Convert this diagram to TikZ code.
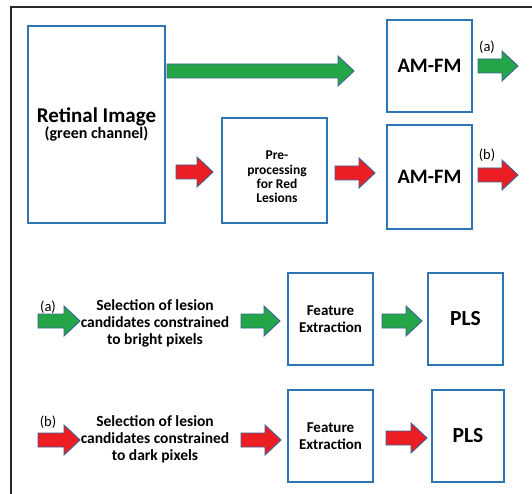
\documentclass[tikz,border=0pt]{standalone}
\usepackage{fontspec}
\setmainfont{Carlito}
\usetikzlibrary{calc}

\definecolor{boxblue}{RGB}{46,117,182}
\definecolor{arrowedge}{RGB}{58,98,150}
\definecolor{arrowgreen}{RGB}{36,166,72}
\definecolor{arrowred}{RGB}{236,30,36}
\definecolor{framegray}{RGB}{40,40,40}

% block arrow between two named coordinates (same height)
\newcommand\blockarrow[3]{%
  \path let \p1=(#2), \p2=(#3) in
    [draw=arrowedge, line width=0.9pt, line join=miter, fill=#1]
    (\x1,{\y1+7pt}) -- ({\x2-16pt},{\y1+7pt}) -- ({\x2-16pt},{\y1+15pt})
    -- (\x2,\y1) -- ({\x2-16pt},{\y1-15pt}) -- ({\x2-16pt},{\y1-7pt})
    -- (\x1,{\y1-7pt}) -- cycle;}

\begin{document}
\begin{tikzpicture}[x=1pt,y=-1pt,
  box/.style={draw=boxblue, line width=1.5pt, fill=white, inner sep=0pt,
    align=center},
  plain/.style={inner sep=0pt, align=center},
  tag/.style={inner sep=0pt, font=\fontsize{14.5}{15}\selectfont}]
\useasboundingbox (0,0) rectangle (532,494);
\fill[white] (0,0) rectangle (532,494);

% outer frame
\draw[framegray, line width=1.3pt] (11,500) -- (11,7) -- (540,7);

% upper stage
\node[box, minimum width=137pt, minimum height=197pt,
  font=\bfseries\fontsize{16}{16}\selectfont] (retina) at (96.5,124.5)
  {{\fontsize{21}{21}\selectfont Retinal Image}\\(green channel)};
\node[box, minimum width=85pt, minimum height=92pt,
  font=\bfseries\fontsize{20.5}{22}\selectfont] (amfmA) at (429.5,66) {AM-FM};
\node[box, minimum width=85pt, minimum height=104pt,
  font=\bfseries\fontsize{20.5}{22}\selectfont] (amfmB) at (429.5,177) {AM-FM};
\node[box, minimum width=105pt, minimum height=105pt] (pre) at (274.5,170.5) {};
\node[plain, font=\bfseries\fontsize{13.5}{14.4}\selectfont] (pretext) at (277,177)
  {Pre-\\processing\\for Red\\Lesions};

\coordinate (g1s) at (167,71);  \coordinate (g1e) at (354,71);
\coordinate (r1s) at (176,172); \coordinate (r1e) at (213,172);
\coordinate (r2s) at (335,173); \coordinate (r2e) at (375,173);
\coordinate (gAs) at (478,66);  \coordinate (gAe) at (518,66);
\coordinate (rBs) at (478,175); \coordinate (rBe) at (518,175);
\blockarrow{arrowgreen}{g1s}{g1e}
\blockarrow{arrowred}{r1s}{r1e}
\blockarrow{arrowred}{r2s}{r2e}
\blockarrow{arrowgreen}{gAs}{gAe}
\blockarrow{arrowred}{rBs}{rBe}
\node[tag] (tagA) at (487,47) {(a)};
\node[tag] (tagB) at (487,155) {(b)};

% lower stage, branch (a)
\node[plain, font=\bfseries\fontsize{15.5}{17}\selectfont] (selA) at (155,323)
  {Selection of lesion\\candidates constrained\\to bright pixels};
\node[box, minimum width=85pt, minimum height=92pt,
  font=\bfseries\fontsize{15}{17}\selectfont] (feA) at (330.5,319)
  {Feature\\Extraction};
\node[box, minimum width=75pt, minimum height=92pt,
  font=\bfseries\fontsize{21.5}{22}\selectfont] (plsA) at (465.5,319) {PLS};
\coordinate (a1s) at (38,321);  \coordinate (a1e) at (80,321);
\coordinate (a2s) at (241,321); \coordinate (a2e) at (280,321);
\coordinate (a3s) at (382,321); \coordinate (a3e) at (422,321);
\blockarrow{arrowgreen}{a1s}{a1e}
\blockarrow{arrowgreen}{a2s}{a2e}
\blockarrow{arrowgreen}{a3s}{a3e}
\node[tag] (tagA2) at (48,307) {(a)};

% lower stage, branch (b)
\node[plain, font=\bfseries\fontsize{15.5}{17}\selectfont] (selB) at (155,439)
  {Selection of lesion\\candidates constrained\\to dark pixels};
\node[box, minimum width=85pt, minimum height=92pt,
  font=\bfseries\fontsize{15}{17}\selectfont] (feB) at (330.5,436)
  {Feature\\Extraction};
\node[box, minimum width=72pt, minimum height=92pt,
  font=\bfseries\fontsize{21.5}{22}\selectfont] (plsB) at (468,436) {PLS};
\coordinate (b1s) at (38,440);  \coordinate (b1e) at (80,440);
\coordinate (b2s) at (241,440); \coordinate (b2e) at (281,440);
\coordinate (b3s) at (386,438); \coordinate (b3e) at (427,438);
\blockarrow{arrowred}{b1s}{b1e}
\blockarrow{arrowred}{b2s}{b2e}
\blockarrow{arrowred}{b3s}{b3e}
\node[tag] (tagB2) at (48,422) {(b)};
\end{tikzpicture}
\end{document}
